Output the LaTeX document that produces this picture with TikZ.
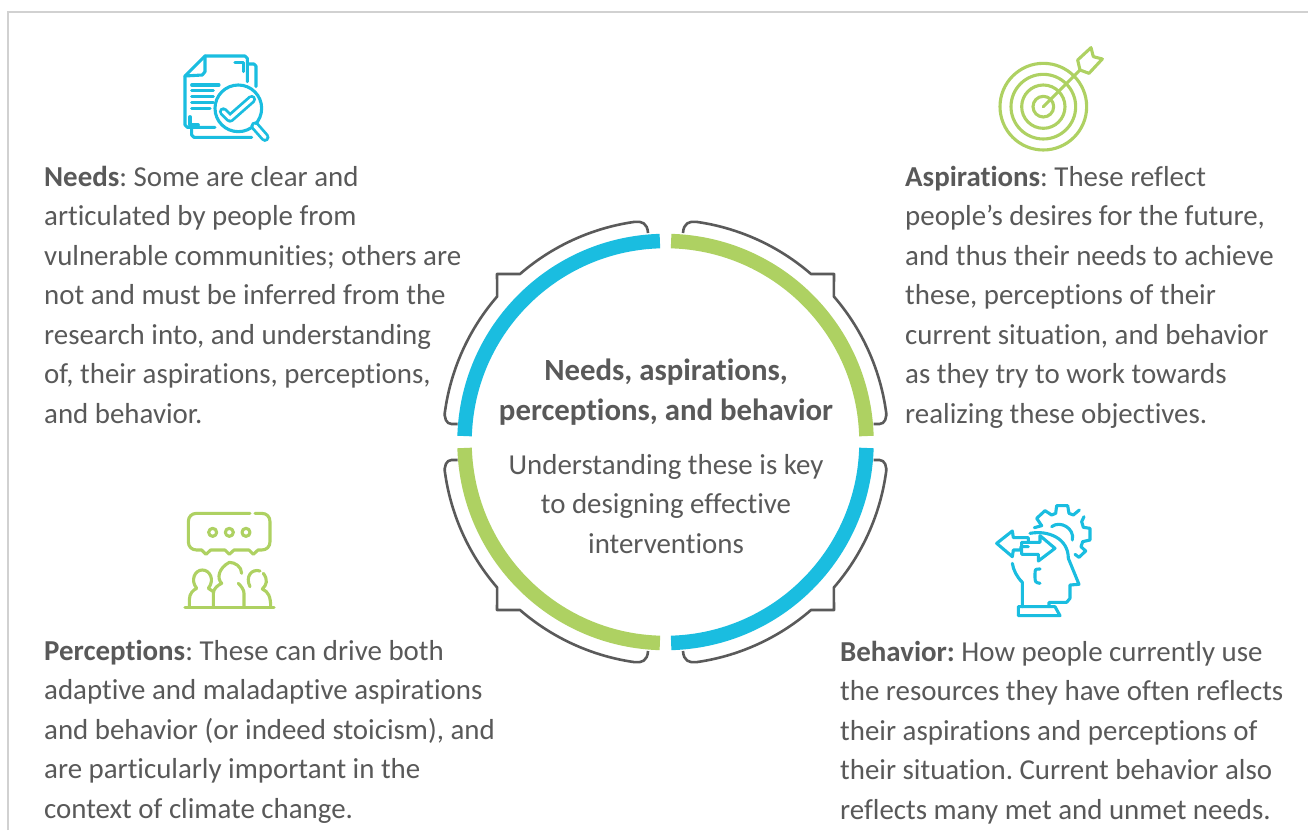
\documentclass[tikz,border=0pt]{standalone}
\usepackage{fontspec}
\setmainfont{Carlito}[Ligatures=CommonOff]
\definecolor{cy}{HTML}{1ABDE0}
\definecolor{gr}{HTML}{AED162}
\definecolor{tx}{HTML}{595959}
\definecolor{ol}{HTML}{5A5A5A}
\newcommand{\firstline}{\rule{0pt}{20pt}}
\tikzset{
 body/.style={text=tx,font=\fontsize{28.9}{39.5}\selectfont\frenchspacing,align=left,anchor=north west,inner sep=0pt},
 mid/.style={text=tx,font=\fontsize{28.9}{39.5}\selectfont\frenchspacing,align=center,anchor=north,inner sep=0pt},
 midbold/.style={mid,font=\fontsize{30.8}{39.5}\selectfont\bfseries},
 ringseg/.style={line width=14.5pt},
 outline/.style={draw=ol,line width=2.6pt,line join=round},
 iconline/.style={line width=3.1pt,line cap=round,line join=round},
}
\begin{document}
\begin{tikzpicture}[x=1pt,y=-1pt]
\useasboundingbox (0,0) rectangle (1308,830);
\fill[white] (0,0) rectangle (1308,830);
\draw[black!18,line width=1.5pt] (8,830) -- (8,12) -- (1308,12);
\coordinate (c) at (665.5,442);
% rings
\draw[ringseg,cy] (c) ++(181.7:201) arc[start angle=181.7,end angle=268.4,radius=201];
\draw[ringseg,gr] (c) ++(-88.4:201) arc[start angle=-88.4,end angle=-1.7,radius=201];
\draw[ringseg,cy] (c) ++(1.7:201) arc[start angle=1.7,end angle=88.4,radius=201];
\draw[ringseg,gr] (c) ++(91.6:201) arc[start angle=91.6,end angle=178.3,radius=201];
% outlines
\foreach \s/\t in {1/1,-1/1,1/-1,-1/-1}{
\begin{scope}[shift={(c)},xscale=\s,yscale=\t]
\draw[outline] (-208,-18) -- (-214,-18) .. controls (-219,-18) and (-222,-24) .. (-220.3,-32)
  arc[start angle=188.3,end angle=220.9,radius=222.5]
  -- (-168.5,-168) -- (-145.5,-168)
  arc[start angle=229.1,end angle=262,radius=222.5]
  .. controls (-24,-221) and (-18,-219) .. (-17.5,-209);
\end{scope}}
% centre text
\node[midbold] (title) at (666,359) {\firstline Needs, aspirations,\\perceptions, and behavior};
\node[mid] (sub) at (666,454) {\firstline Understanding these is key\\to designing effective\\interventions};
% text blocks
\node[body] (needs) at (44,166) {\firstline\textbf{Needs}: Some are clear and\\articulated by people from\\vulnerable communities; others are\\not and must be inferred from the\\research into, and understanding\\of, their aspirations, perceptions,\\and behavior.};
\node[body] (asp) at (905,166) {\firstline\textbf{Aspirations}: These reflect\\people’s desires for the future,\\and thus their needs to achieve\\these, perceptions of their\\current situation, and behavior\\as they try to work towards\\realizing these objectives.};
\node[body] (perc) at (44,640) {\firstline\textbf{Perceptions}: These can drive both\\adaptive and maladaptive aspirations\\and behavior (or indeed stoicism), and\\are particularly important in the\\context of climate change.};
\node[body] (beh) at (840,641) {\firstline\textbf{Behavior:} How people currently use\\the resources they have often reflects\\their aspirations and perceptions of\\their situation. Current behavior also\\reflects many met and unmet needs.};
% icon 1
\begin{scope}[shift={(170,40)},x=0.3333pt,y=-0.3333pt,iconline,cy]
\draw (232,125) -- (232,55) -- (225,48) -- (105,48) -- (45,108) -- (45,255) -- (52,262) -- (135,262);
\draw (105,48) -- (105,95) -- (97,105) -- (45,108);
\draw (235,72) -- (252,72) -- (258,78) -- (258,140);
\draw (65,265) -- (65,285) -- (72,292) -- (245,292);
\draw (195,68) -- (220,68) -- (220,95);
\draw (60,230) -- (60,255) -- (85,255);
\draw (65,135) -- (147,135);
\draw (65,152) -- (130,152);
\draw (65,170) -- (130,170);
\draw (65,188) -- (130,188);
\draw (65,205) -- (120,205);
\draw (205,205) circle[radius=70];
\draw[line width=2.8pt,double=white,double distance=3.2pt] (160,215) -- (180,235) -- (245,178);
\draw[line width=2.8pt,double=white,double distance=3.5pt] (255,258) -- (285,292);
\end{scope}
% icon 2
\begin{scope}[shift={(985,35)},x=0.3333pt,y=-0.3333pt,iconline,gr]
\foreach \r in {130,97,65,31} \draw (175,215) circle[radius=\r];
\draw (175,215) -- (285,105);
\draw (278,75) -- (318,38) -- (325,65) -- (352,72) -- (312,115) -- (285,105) -- cycle;
\end{scope}
% icon 3
\begin{scope}[shift={(170,505)},x=0.3333pt,y=-0.3333pt,iconline,gr]
\draw (240,25) -- (80,25) .. controls (65,25) and (55,35) .. (55,50) -- (55,110) .. controls (55,125) and (65,135) .. (80,135)
 -- (95,135) -- (108,148) -- (122,135) -- (165,135) -- (178,148) -- (192,135) -- (237,135) -- (250,148) -- (264,135)
 -- (275,135) .. controls (290,135) and (300,125) .. (300,110) -- (300,50) .. controls (300,35) and (290,25) .. (275,25) -- (255,25);
\foreach \x in {128,178,228} \draw (\x,82) circle[radius=12];
\draw (45,307) -- (312,307);
\draw (58,305) -- (58,285) .. controls (58,265) and (70,255) .. (80,250) .. controls (60,225) and (75,195) .. (97,195) .. controls (120,195) and (135,225) .. (115,250) -- (130,260);
\draw (130,305) -- (130,265) .. controls (130,250) and (145,240) .. (155,235) .. controls (140,220) and (145,190) .. (178,172) .. controls (195,172) and (215,185) .. (215,205);
\draw (222,305) -- (222,265) .. controls (222,255) and (215,245) .. (205,235);
\draw (280,205) .. controls (295,225) and (290,240) .. (277,252) .. controls (295,260) and (302,275) .. (302,305);
\draw (270,198) .. controls (245,190) and (225,215) .. (240,245);
\end{scope}
% icon 4
\begin{scope}[shift={(985,495)},x=0.3333pt,y=-0.3333pt,iconline,cy]
\draw (148,98) -- (170,92) -- (155,70) -- (180,47) -- (200,60) -- (212,55) -- (215,32) -- (248,32) -- (252,55) -- (265,60) -- (283,45);
\draw (297,65) -- (290,80) -- (295,97) -- (315,100) -- (315,135) -- (293,140) -- (288,155) -- (302,168) -- (282,187) -- (270,178);
\draw (200,95) .. controls (225,75) and (270,100) .. (262,135);
\draw (135,115) .. controls (190,105) and (250,130) .. (250,190) -- (282,268) -- (255,270) -- (255,310) -- (245,322) -- (192,322) -- (192,335);
\draw (82,205) .. controls (85,225) and (95,245) .. (112,262) -- (112,335);
\draw (100,335) -- (210,335) -- (225,362) -- (100,362) -- cycle;
\draw (165,222) .. controls (150,222) and (150,222) .. (150,240) .. controls (150,262) and (150,262) .. (165,265);
\draw (130,155) -- (108,155) -- (108,165) -- (85,165) -- (82,185) -- (35,145) -- (82,108) -- (85,128) -- (130,128) -- (130,142);
\draw (110,142) -- (165,142) -- (165,122) -- (210,160) -- (160,198) -- (160,178) -- (110,178) -- cycle;
\end{scope}
\end{tikzpicture}
\end{document}
